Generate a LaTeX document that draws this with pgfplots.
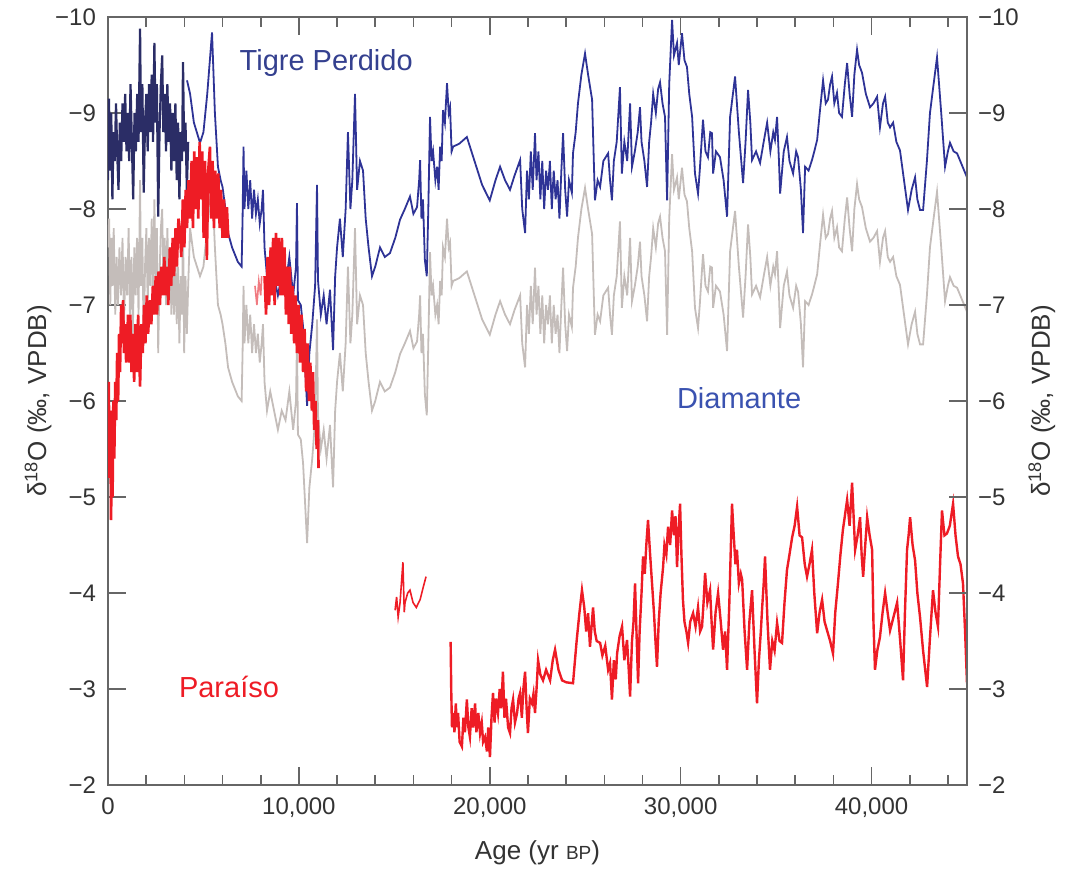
\documentclass[border=0pt]{standalone}
\usepackage{fontspec}
\setmainfont{Liberation Sans}
\usepackage{pgfplots}
\pgfplotsset{compat=1.18}
\definecolor{tigreDark}{HTML}{2B2D66}
\definecolor{tigre}{HTML}{2E3396}
\definecolor{tigreLbl}{HTML}{34408F}
\definecolor{diam}{HTML}{C4BDBA}
\definecolor{diamLbl}{HTML}{3A52B0}
\definecolor{para}{HTML}{EE1C25}
\definecolor{paraLight}{HTML}{F07A80}
\definecolor{axisgray}{HTML}{666666}

\pgfplotsset{
  commonaxis/.style={
    width=429.5pt, height=384pt, scale only axis,
    xmin=0, xmax=45000, ymin=-10, ymax=-2, y dir=reverse,
    scaled x ticks=false,
    tick align=inside,
    major tick length=9pt, minor tick length=5pt,
    tick style={axisgray, line width=0.8pt},
    axis line style={axisgray, line width=0.9pt},
    ytick={-10,-9,...,-2},
    yticklabels={−10,−9,−8,−7,−6,−5,−4,−3,−2},
    tick label style={font=\fontsize{12}{14}\selectfont, text=black!80},
    label style={font=\fontsize{13}{15}\selectfont, text=black!80},
    /pgf/number format/assume math mode=true,
  },
}

\begin{document}
\begin{tikzpicture}
\begin{axis}[commonaxis, name=main,
    xtick={0,10000,20000,30000,40000},
    xticklabels={0,{10,000},{20,000},{30,000},{40,000}},
    minor xtick={2000,4000,6000,8000,12000,14000,16000,18000,22000,24000,26000,28000,32000,34000,36000,38000,42000,44000},
    xtick pos=both, xticklabel pos=bottom,
    ytick pos=both, yticklabel pos=left,
    xticklabel style={yshift=-3pt},
    yticklabel style={xshift=-2.5pt},
    xlabel={Age (yr {\fontsize{9.5}{10}\selectfont BP})},
    xlabel style={yshift=-4.5pt},
    ylabel={δ\textsuperscript{18}O (‰, VPDB)},
    ylabel shift=-5pt,
  ]
% Diamante (grey)
\addplot[diam, line width=0.9pt] coordinates {
(0,-7.6)(60,-7.9)(120,-7.0)(180,-7.7)(240,-7.2)(300,-7.8)(380,-6.9)(450,-7.5)(520,-7.0)(600,-7.6)(680,-7.1)(760,-7.7)(840,-6.8)(920,-7.5)(1000,-7.1)(1080,-7.8)(1150,-6.9)(1230,-7.5)(1300,-6.7)(1380,-7.6)(1450,-7.1)(1520,-7.7)(1600,-6.9)(1680,-8.3)(1730,-7.2)(1800,-7.7)(1870,-6.6)(1940,-7.4)(2010,-7.8)(2080,-7.0)(2150,-7.7)(2220,-7.2)(2290,-7.9)(2360,-7.1)(2430,-8.1)(2490,-7.3)(2560,-7.8)(2630,-6.5)(2700,-7.3)(2770,-7.8)(2840,-8.0)(2900,-7.2)(2970,-7.7)(3040,-7.0)(3110,-7.8)(3180,-7.2)(3250,-7.6)(3320,-6.9)(3390,-7.5)(3460,-6.9)(3530,-7.6)(3600,-6.8)(3670,-7.4)(3740,-6.6)(3810,-7.3)(3880,-6.9)(3930,-7.9)(3990,-6.5)(4060,-7.3)(4130,-6.7)(4200,-7.2)
(4300,-7.8)(4500,-7.5)(4820,-7.3)(5000,-7.4)(5200,-7.8)(5450,-8.3)(5600,-7.6)(5760,-7.0)(5900,-6.9)(6000,-6.8)(6150,-6.6)(6290,-6.35)(6500,-6.2)(6800,-6.05)(7000,-6.0)(7050,-6.5)(7100,-7.2)(7150,-6.6)(7250,-7.0)(7350,-6.6)(7450,-6.9)(7550,-6.5)(7650,-6.8)(7750,-6.5)(7850,-6.7)(7950,-6.4)(8050,-6.6)(8120,-6.8)(8200,-6.2)(8330,-5.9)(8500,-6.1)(8700,-5.9)(8900,-5.7)(9100,-5.9)(9300,-5.8)(9500,-6.1)(9700,-5.7)(9850,-6.0)(9900,-6.65)(9950,-5.65)(10100,-5.6)(10220,-5.35)(10430,-4.52)(10550,-5.1)(10700,-5.4)(10850,-5.8)(10950,-6.85)(11000,-5.85)(11150,-5.5)(11300,-5.7)(11450,-5.4)(11630,-5.75)(11790,-5.1)(11900,-5.9)(12000,-6.2)(12150,-6.5)(12300,-6.1)(12450,-6.6)(12570,-7.4)(12700,-6.6)(12800,-6.9)(12940,-7.8)(13050,-6.8)(13200,-7.1)(13360,-7.0)(13500,-6.5)(13650,-6.2)(13830,-5.9)(14000,-6.0)(14250,-6.2)(14500,-6.1)(14770,-6.14)(15050,-6.3)(15300,-6.49)(15550,-6.6)(15820,-6.73)(16000,-6.55)(16190,-6.62)(16300,-6.9)(16350,-7.1)(16420,-6.5)(16500,-6.7)(16600,-6.07)(16700,-5.85)
(16780,-6.6)(16870,-7.55)(16950,-7.1)(17030,-7.2)(17150,-6.9)(17240,-7.0)(17320,-6.8)(17400,-7.25)(17480,-7.1)(17550,-7.6)(17650,-7.5)(17760,-7.9)(17850,-7.6)(17920,-7.65)(18000,-7.2)(18080,-7.25)(18400,-7.28)(18800,-7.35)(19200,-7.1)(19600,-6.85)(20000,-6.69)(20300,-6.9)(20540,-7.04)(20800,-6.9)(21060,-6.8)(21300,-6.95)(21590,-7.1)(21700,-6.6)(21850,-6.35)(21950,-7.0)(22050,-6.7)(22150,-7.2)(22250,-6.8)(22370,-7.39)(22450,-6.9)(22550,-7.2)(22650,-6.7)(22750,-7.1)(22850,-6.6)(22950,-7.0)(23050,-6.8)(23150,-7.1)(23250,-6.6)(23350,-7.0)(23450,-6.7)(23550,-6.9)(23650,-6.5)(23750,-7.0)(23840,-7.39)(23950,-6.8)(24050,-6.52)(24150,-6.9)(24300,-6.77)(24360,-7.18)(24500,-7.4)(24620,-7.7)(24800,-8.0)(24990,-8.22)(25150,-8.0)(25360,-7.74)(25450,-7.1)(25510,-6.69)(25650,-6.9)(25780,-6.83)(25950,-7.1)(26200,-7.18)(26300,-6.9)(26400,-6.69)(26500,-7.1)(26650,-7.3)(26820,-7.87)(26920,-6.97)(27050,-7.3)(27200,-7.1)(27350,-7.7)(27450,-7.04)(27600,-7.2)(27750,-7.4)(27870,-7.66)(27950,-7.3)(28100,-7.1)(28240,-6.83)(28350,-7.3)(28450,-7.5)(28560,-7.8)(28700,-7.6)(28820,-7.85)(28920,-7.92)(29050,-7.7)(29180,-7.56)(29290,-6.69)(29400,-7.9)(29550,-8.57)(29650,-8.2)(29810,-8.33)(29900,-8.1)(30070,-8.43)(30200,-8.15)(30330,-8.08)(30450,-7.8)(30600,-7.56)(30750,-6.97)(30910,-6.76)(31000,-7.0)(31170,-7.53)(31300,-7.2)(31430,-7.14)(31550,-7.4)(31640,-7.39)(31700,-6.97)(31850,-7.2)(32060,-7.14)(32250,-6.9)(32430,-6.52)(32590,-7.56)(32850,-7.98)(33050,-7.4)(33270,-6.87)(33400,-7.3)(33530,-7.84)(33650,-7.5)(33740,-7.11)(33950,-7.2)(34160,-7.08)(34350,-7.3)(34530,-7.5)(34700,-7.2)(34850,-7.4)(34940,-7.32)(35050,-7.56)(35150,-7.1)(35210,-6.76)(35400,-7.2)(35570,-7.35)(35700,-7.1)(35890,-6.97)(36050,-7.2)(36150,-7.14)(36300,-6.8)(36410,-6.35)(36520,-7.04)(36700,-7.0)(36880,-7.11)(37000,-7.2)(37150,-7.32)(37300,-7.63)(37460,-7.94)(37600,-7.7)(37720,-7.74)(37830,-7.9)(37930,-7.98)(38050,-7.7)(38190,-7.81)(38300,-7.6)(38450,-7.56)(38600,-7.9)(38720,-8.12)(38850,-7.8)(38980,-7.56)(39100,-8.0)(39240,-8.26)(39350,-8.1)(39500,-8.02)(39700,-7.8)(39920,-7.66)(40100,-7.7)(40290,-7.77)(40440,-7.45)(40600,-7.7)(40710,-7.77)(40850,-7.5)(40970,-7.45)(41130,-7.5)(41300,-7.3)(41490,-7.21)(41700,-6.9)(41910,-6.59)(42100,-6.8)(42280,-6.93)(42400,-6.7)(42540,-6.59)(42700,-6.59)(42900,-7.1)(43060,-7.6)(43250,-7.9)(43430,-8.18)(43650,-7.6)(43850,-7.04)(44000,-7.2)(44110,-7.29)(44300,-7.2)(44480,-7.18)(44750,-7.05)(45000,-6.93)
};
% Tigre Perdido, dense early part
\addplot[tigreDark, line width=1.1pt] coordinates {
(0,-8.3)(50,-9.15)(110,-8.4)(170,-9.0)(230,-8.1)(290,-8.8)(350,-8.5)(420,-9.1)(480,-8.6)(550,-8.2)(620,-8.9)(690,-8.5)(760,-9.1)(830,-8.7)(900,-9.2)(970,-8.6)(1040,-9.0)(1110,-8.5)(1180,-9.3)(1250,-8.7)(1320,-8.1)(1390,-9.0)(1460,-8.6)(1530,-9.2)(1600,-8.7)(1680,-9.88)(1730,-8.8)(1800,-9.3)(1870,-8.17)(1940,-8.9)(2010,-9.2)(2080,-8.6)(2150,-9.3)(2220,-8.8)(2290,-9.4)(2360,-8.7)(2430,-9.73)(2490,-8.9)(2560,-9.3)(2630,-7.92)(2700,-8.8)(2770,-9.3)(2840,-9.6)(2900,-8.8)(2970,-9.2)(3040,-8.6)(3110,-9.3)(3180,-8.7)(3250,-9.1)(3320,-8.4)(3390,-9.0)(3460,-8.5)(3530,-9.1)(3600,-8.3)(3670,-8.9)(3740,-8.1)(3810,-8.8)(3880,-8.5)(3930,-9.53)(3990,-8.6)(4060,-8.9)(4130,-8.2)(4200,-8.7)
};
% Tigre Perdido, rest
\addplot[tigre, line width=0.9pt] coordinates {
(4140,-9.34)(4300,-9.2)(4500,-8.9)(4820,-8.69)(5000,-8.8)(5200,-9.2)(5450,-9.84)(5600,-9.0)(5760,-8.44)(5900,-8.3)(6000,-8.23)(6150,-8.0)(6290,-7.75)(6500,-7.6)(6800,-7.45)(7000,-7.4)(7050,-7.9)(7100,-8.65)(7150,-8.0)(7250,-8.4)(7350,-8.0)(7450,-8.3)(7550,-7.9)(7650,-8.2)(7750,-7.95)(7850,-8.1)(7950,-7.85)(8050,-8.0)(8120,-8.2)(8200,-7.6)(8330,-7.3)(8500,-7.5)(8700,-7.3)(8900,-7.1)(9100,-7.3)(9300,-7.2)(9500,-7.5)(9700,-7.1)(9850,-7.4)(9900,-8.06)(9950,-7.05)(10100,-7.0)(10220,-6.77)(10430,-5.95)(10550,-6.5)(10700,-6.8)(10850,-7.2)(10950,-8.25)(11000,-7.26)(11150,-6.9)(11300,-7.1)(11450,-6.8)(11630,-7.16)(11790,-6.53)(11900,-7.3)(12000,-7.6)(12150,-7.9)(12300,-7.5)(12450,-8.0)(12570,-8.8)(12700,-8.0)(12800,-8.3)(12940,-9.2)(13050,-8.2)(13200,-8.5)(13360,-8.4)(13500,-7.9)(13650,-7.6)(13830,-7.3)(14000,-7.4)(14250,-7.6)(14500,-7.5)(14770,-7.54)(15050,-7.7)(15300,-7.89)(15550,-8.0)(15820,-8.13)(16000,-7.95)(16190,-8.02)(16300,-8.3)(16350,-8.51)(16420,-7.9)(16500,-8.1)(16600,-7.47)(16700,-7.3)(16780,-8.0)(16870,-8.96)(16950,-8.5)(17030,-8.6)(17150,-8.3)(17240,-8.44)(17320,-8.2)(17400,-8.65)(17480,-8.5)(17550,-9.03)(17650,-8.9)(17760,-9.31)(17850,-9.0)(17920,-9.06)(18000,-8.6)(18080,-8.65)(18400,-8.68)(18800,-8.75)(19200,-8.5)(19600,-8.25)(20000,-8.09)(20300,-8.3)(20540,-8.44)(20800,-8.3)(21060,-8.2)(21300,-8.35)(21590,-8.51)
(21700,-8.0)(21850,-7.75)(21950,-8.4)(22050,-8.1)(22150,-8.6)(22250,-8.2)(22370,-8.79)(22450,-8.3)(22550,-8.6)(22650,-8.1)(22750,-8.5)(22850,-8.0)(22950,-8.4)(23050,-8.2)(23150,-8.5)(23250,-8.0)(23350,-8.4)(23450,-8.1)(23550,-8.3)(23650,-7.9)(23750,-8.4)(23840,-8.79)(23950,-8.2)(24050,-7.92)(24150,-8.3)(24300,-8.17)(24360,-8.58)(24500,-8.8)(24620,-9.1)(24800,-9.4)(24990,-9.62)(25150,-9.4)(25360,-9.14)(25450,-8.5)(25510,-8.09)(25650,-8.3)(25780,-8.23)(25950,-8.5)(26200,-8.58)(26300,-8.3)(26400,-8.09)(26500,-8.5)(26650,-8.7)(26820,-9.27)(26920,-8.37)(27050,-8.7)(27200,-8.5)(27350,-9.1)(27450,-8.44)(27600,-8.6)(27750,-8.8)(27870,-9.06)(27950,-8.7)(28100,-8.5)(28240,-8.23)(28350,-8.7)(28450,-8.9)(28560,-9.2)(28700,-9.0)(28820,-9.25)(28920,-9.32)(29050,-9.1)(29180,-8.96)(29290,-8.09)(29400,-9.3)(29550,-9.97)(29650,-9.6)(29810,-9.73)(29900,-9.5)(30070,-9.83)(30200,-9.55)(30330,-9.48)(30450,-9.2)(30600,-8.96)(30750,-8.37)(30910,-8.16)(31000,-8.4)(31170,-8.93)(31300,-8.6)(31430,-8.54)(31550,-8.8)(31640,-8.79)(31700,-8.37)(31850,-8.6)(32060,-8.54)(32250,-8.3)(32430,-7.92)(32590,-8.96)(32850,-9.38)(33050,-8.8)(33270,-8.27)(33400,-8.7)(33530,-9.24)(33650,-8.9)(33740,-8.51)(33950,-8.6)(34160,-8.48)(34350,-8.7)(34530,-8.9)(34700,-8.6)(34850,-8.8)(34940,-8.72)(35050,-8.96)(35150,-8.5)(35210,-8.16)(35400,-8.6)(35570,-8.75)(35700,-8.5)(35890,-8.37)(36050,-8.6)(36150,-8.54)(36300,-8.2)(36410,-7.75)(36520,-8.44)(36700,-8.4)(36880,-8.51)(37000,-8.6)(37150,-8.72)(37300,-9.03)(37460,-9.34)(37600,-9.1)(37720,-9.14)(37830,-9.3)(37930,-9.38)(38050,-9.1)(38190,-9.21)(38300,-9.0)(38450,-8.96)(38600,-9.3)(38720,-9.52)(38850,-9.2)(38980,-8.96)(39100,-9.4)(39240,-9.66)(39350,-9.5)(39500,-9.42)(39700,-9.2)(39920,-9.06)(40100,-9.1)(40290,-9.17)(40440,-8.85)(40600,-9.1)(40710,-9.17)(40850,-8.9)(40970,-8.85)(41130,-8.9)(41300,-8.7)(41490,-8.61)(41700,-8.3)(41910,-7.99)(42100,-8.2)(42280,-8.33)(42400,-8.1)(42540,-7.99)(42700,-7.99)(42900,-8.5)(43060,-9.0)(43250,-9.3)(43430,-9.58)(43650,-9.0)(43850,-8.44)(44000,-8.6)(44110,-8.69)(44300,-8.6)(44480,-8.58)(44750,-8.45)(45000,-8.33)
};
% Paraiso (red), Holocene part
\addplot[para, line width=1.3pt] coordinates {
(0,-5.7)(40,-6.2)(80,-5.2)(120,-5.9)(160,-4.76)(200,-5.5)(240,-5.0)(280,-6.0)(330,-5.4)(380,-6.2)(430,-5.8)(480,-6.5)(530,-6.0)(580,-6.7)(630,-6.3)(690,-7.0)(740,-6.6)(790,-7.05)(840,-6.5)(900,-6.8)(950,-6.4)(990,-6.53)(1050,-6.9)(1110,-6.4)(1170,-6.9)(1230,-6.3)(1300,-6.7)(1370,-6.2)(1440,-6.8)(1510,-6.3)(1580,-6.9)(1680,-6.15)(1750,-6.8)(1820,-6.5)(1890,-7.0)(1960,-6.6)(2030,-7.1)(2100,-6.7)(2200,-7.05)(2270,-6.8)(2350,-7.2)(2420,-6.9)(2500,-7.3)(2570,-6.9)(2650,-7.35)(2720,-7.0)(2800,-7.4)(2870,-7.1)(2950,-7.5)(3020,-7.1)(3090,-7.4)(3160,-7.0)(3240,-7.6)(3310,-7.2)(3390,-7.7)(3460,-7.3)(3540,-7.8)(3610,-7.4)(3690,-7.9)(3770,-7.75)(3840,-7.5)(3920,-8.1)(4000,-7.6)(4070,-8.2)(4140,-7.8)(4220,-8.3)(4300,-7.9)(4380,-8.5)(4450,-7.8)(4520,-8.6)(4600,-8.0)(4660,-8.54)(4730,-7.9)(4800,-8.7)(4870,-8.1)(4940,-8.6)(5010,-7.7)(5080,-8.5)(5180,-7.47)(5250,-8.4)(5340,-8.65)(5410,-7.9)(5480,-8.5)(5550,-7.8)(5620,-8.4)(5710,-7.9)(5780,-8.37)(5850,-7.8)(5920,-8.2)(6000,-7.7)(6080,-8.1)(6150,-7.7)(6230,-8.02)(6300,-7.7)
};
\addplot[paraLight, line width=0.8pt] coordinates {
(7700,-7.2)(7800,-7.0)(7900,-7.25)(8000,-7.1)(8050,-7.3)
};
\addplot[para, line width=1.3pt] coordinates {
(8200,-7.3)(8280,-6.9)(8360,-7.5)(8440,-7.0)(8520,-7.6)(8600,-7.1)(8650,-7.7)(8730,-7.0)(8800,-7.75)(8870,-7.2)(8950,-7.7)(9030,-7.1)(9110,-7.7)(9180,-7.1)(9250,-7.6)(9320,-6.9)(9400,-7.4)(9470,-6.8)(9530,-7.4)(9600,-6.7)(9680,-7.2)(9750,-6.6)(9830,-7.1)(9900,-6.5)(9980,-7.0)(10060,-6.4)(10140,-6.9)(10220,-6.3)(10300,-6.75)(10380,-6.1)(10450,-6.6)(10530,-6.0)(10600,-6.4)(10680,-5.9)(10740,-6.3)(10800,-5.7)(10870,-6.0)(10930,-5.5)(11000,-5.8)(11030,-5.3)
};
\addplot[para, line width=0.8pt] coordinates {
(15040,-3.82)(15120,-3.96)(15200,-3.75)(15300,-3.9)(15450,-4.32)(15520,-3.8)(15560,-3.9)(15700,-4.0)(15820,-4.03)(15980,-3.9)(16150,-3.85)(16350,-3.93)(16500,-4.05)(16660,-4.17)
};
\addplot[para, line width=1.2pt] coordinates {
(17950,-3.49)(17980,-3.0)(18020,-2.6)(18080,-2.75)(18150,-2.55)(18220,-2.85)(18280,-2.6)(18340,-2.75)(18420,-2.45)(18540,-2.4)(18620,-2.7)(18700,-2.55)(18800,-2.89)(18880,-2.6)(18960,-2.5)(19050,-2.8)(19130,-2.6)(19230,-2.85)(19300,-2.55)(19400,-2.75)(19490,-2.54)(19580,-2.65)(19650,-2.45)(19750,-2.5)(19850,-2.35)(19920,-2.6)(20010,-2.29)(20090,-2.7)(20170,-2.96)(20250,-2.65)(20330,-2.9)(20430,-2.75)(20520,-3.0)(20600,-2.8)(20690,-3.18)(20770,-2.7)(20850,-2.9)(20960,-2.6)(21060,-2.54)(21140,-2.8)(21220,-2.89)(21320,-2.65)(21430,-2.75)(21510,-2.9)(21590,-2.96)(21680,-2.7)(21760,-3.0)(21850,-3.18)(21930,-2.8)(22000,-2.54)(22100,-2.9)(22210,-2.85)(22290,-2.95)(22370,-2.75)(22450,-3.0)(22530,-3.3)(22650,-3.15)(22790,-3.09)(22950,-3.2)(23160,-3.09)(23300,-3.3)(23420,-3.41)(23600,-3.2)(23790,-3.09)(24000,-3.07)(24360,-3.06)(24550,-3.5)(24700,-3.8)(24830,-4.03)(24950,-3.85)(25050,-3.6)(25150,-3.79)(25250,-3.44)(25410,-3.85)(25500,-3.6)(25600,-3.5)(25780,-3.48)(25900,-3.35)(26050,-3.45)(26200,-3.2)(26300,-3.27)(26400,-2.89)(26500,-3.3)(26600,-3.1)(26670,-3.37)(26800,-3.55)(26930,-3.65)(27050,-3.3)(27190,-3.51)(27280,-3.2)(27350,-2.92)(27450,-3.5)(27530,-3.7)(27610,-4.1)(27700,-3.5)(27770,-3.06)(27850,-3.6)(27950,-4.0)(28030,-4.38)(28120,-4.2)(28200,-4.5)(28290,-4.76)(28400,-4.4)(28500,-4.1)(28600,-3.8)(28680,-3.5)(28760,-3.23)(28850,-3.7)(28950,-4.0)(29080,-4.27)(29150,-4.5)(29250,-4.4)(29340,-4.69)(29450,-4.5)(29550,-4.86)(29650,-4.6)(29730,-4.8)(29810,-4.27)(29900,-4.7)(29970,-4.93)(30040,-4.4)(30120,-3.93)(30200,-3.7)(30300,-3.6)(30390,-3.48)(30500,-3.7)(30650,-3.79)(30780,-3.65)(30910,-3.85)(31020,-3.6)(31120,-3.65)(31200,-3.9)(31280,-4.21)(31400,-3.9)(31540,-4.03)(31620,-3.7)(31700,-3.41)(31830,-3.8)(31960,-4.0)(32100,-3.7)(32220,-3.41)(32330,-3.6)(32430,-3.2)(32550,-3.9)(32690,-4.93)(32780,-4.6)(32870,-4.3)(32950,-4.45)(33050,-4.1)(33150,-4.2)(33220,-4.14)(33350,-3.6)(33480,-3.2)(33600,-3.7)(33740,-4.03)(33870,-3.4)(34000,-2.85)(34100,-3.3)(34200,-3.6)(34270,-3.85)(34350,-4.1)(34420,-4.38)(34550,-3.7)(34680,-3.2)(34800,-3.5)(34920,-3.4)(35050,-3.69)(35180,-3.5)(35310,-3.48)(35440,-3.9)(35570,-4.24)(35700,-4.4)(35840,-4.58)(35970,-4.7)(36100,-4.9)(36230,-4.6)(36360,-4.58)(36500,-4.3)(36620,-4.17)(36750,-4.3)(36880,-4.45)(37000,-4.0)(37150,-3.58)(37280,-3.8)(37410,-3.93)(37540,-3.7)(37670,-3.61)(37830,-3.5)(37980,-3.37)(38100,-3.8)(38240,-4.1)(38370,-4.4)(38500,-4.66)(38600,-4.8)(38720,-4.97)(38850,-4.7)(38980,-5.15)(39060,-4.8)(39140,-4.45)(39270,-4.6)(39400,-4.79)(39480,-4.4)(39560,-4.17)(39670,-4.5)(39770,-4.79)(39900,-4.6)(40030,-4.45)(40100,-3.7)(40180,-3.2)(40300,-3.4)(40440,-3.54)(40580,-3.8)(40710,-4.0)(40840,-3.8)(40970,-3.61)(41150,-3.75)(41340,-3.9)(41500,-3.5)(41650,-3.09)(41750,-3.8)(41860,-4.45)(41940,-4.6)(42020,-4.79)(42150,-4.5)(42280,-4.34)(42400,-4.0)(42540,-3.75)(42700,-3.4)(42910,-3.02)(43050,-3.5)(43220,-4.03)(43350,-3.8)(43480,-3.65)(43590,-4.3)(43690,-4.86)(43820,-4.6)(43950,-4.62)(44100,-4.7)(44270,-4.93)(44400,-4.6)(44530,-4.38)(44660,-4.3)(44790,-4.1)(44900,-3.6)(45000,-3.06)
};
\node[anchor=base west, font=\fontsize{14.5}{16}\selectfont, text=tigreLbl] at (axis cs:6530,-9.44) {Tigre Perdido};
\node[anchor=base west, font=\fontsize{14.5}{16}\selectfont, text=diamLbl] at (axis cs:29440,-5.92) {Diamante};
\node[anchor=base west, font=\fontsize{14.5}{16}\selectfont, text=para] at (axis cs:3350,-2.91) {Paraíso};
\end{axis}
\begin{axis}[commonaxis,
    hide x axis,
    axis y line*=right,
    yticklabel style={xshift=2pt},
    ylabel={δ\textsuperscript{18}O (‰, VPDB)},
    ylabel shift=-2pt,
  ]
\addplot[draw=none] coordinates {(0,-5)};
\end{axis}
\pgfresetboundingbox
\path (main.south west) ++(-54pt,-43.5pt) rectangle ++(536pt,436pt);
\end{tikzpicture}
\end{document}
